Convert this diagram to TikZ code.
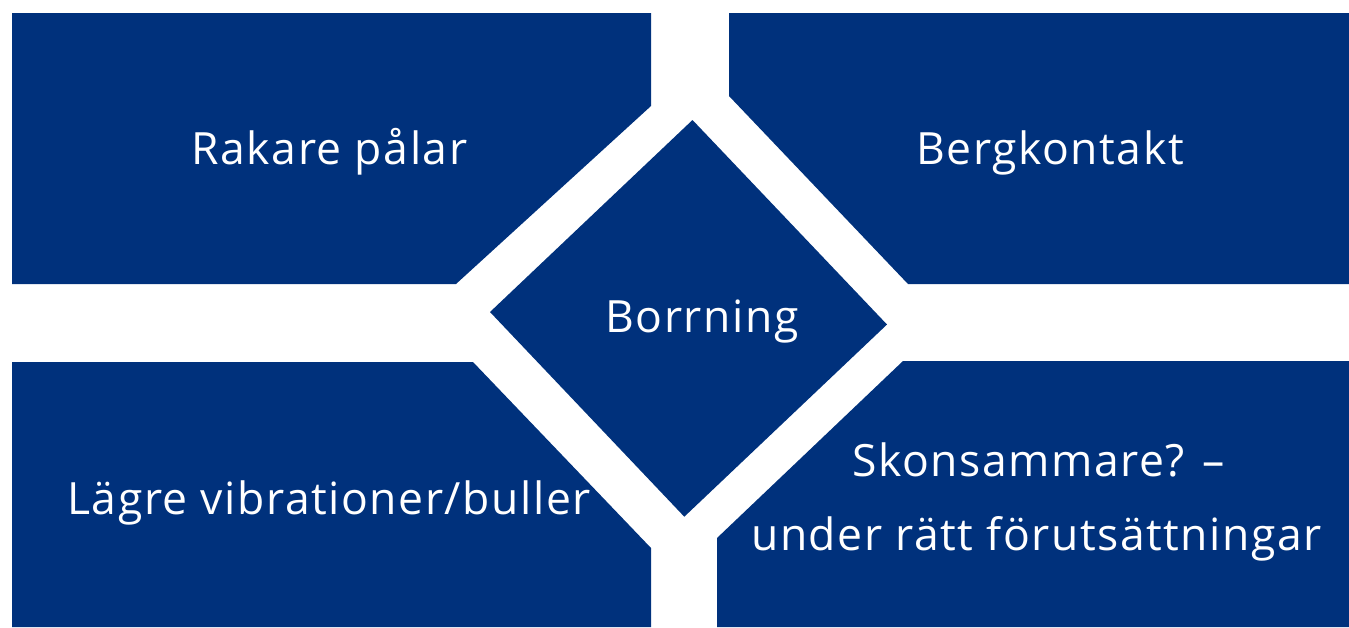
\documentclass[tikz,border=0pt]{standalone}
\usepackage{fontspec}
\setmainfont{Open Sans}[LetterSpace=3.5]
\definecolor{bleuFonce}{RGB}{0,49,124}

\begin{document}
\begin{tikzpicture}[x=0.02cm,y=-0.02cm]
		% styles : blocs bleus et textes blancs
		\tikzset{
			bloc/.style={fill=bleuFonce},
			etiquette/.style={text=white, anchor=base, inner sep=0pt, font=\fontsize{25.3}{30}\selectfont}
		}
		% cadre de l'image (en pixels)
		\useasboundingbox (0,0) rectangle (1349,627);

		% bloc haut gauche
		\fill[bloc] (12,13) -- (651,13) -- (651,106) -- (456,284) -- (12,284) -- cycle;
		% bloc haut droit
		\fill[bloc] (729,13) -- (1349,13) -- (1349,284) -- (908,284) -- (729,96) -- cycle;
		% bloc bas gauche
		\fill[bloc] (12,362) -- (473,362) -- (651,548) -- (651,627) -- (12,627) -- cycle;
		% bloc bas droit
		\fill[bloc] (903,361) -- (1349,361) -- (1349,627) -- (717,627) -- (717,538) -- cycle;
		% losange central
		\fill[bloc] (692.5,120) -- (887,324.5) -- (684.3,516.7) -- (490,312) -- cycle;

		% textes
		\node[etiquette] (rakare) at (329.5,164) {Rakare pålar};
		\node[etiquette] (berg) at (1050,164) {Bergkontakt};
		\node[etiquette] (borrning) at (702,332) {Borrning};
		\node[etiquette] (lagre) at (329,514) {Lägre vibrationer/buller};
		\node[etiquette] (skon) at (1038.5,476) {Skonsammare? –};
		\node[etiquette] (under) at (1036.5,550) {under rätt förutsättningar};
	\end{tikzpicture}
\end{document}
